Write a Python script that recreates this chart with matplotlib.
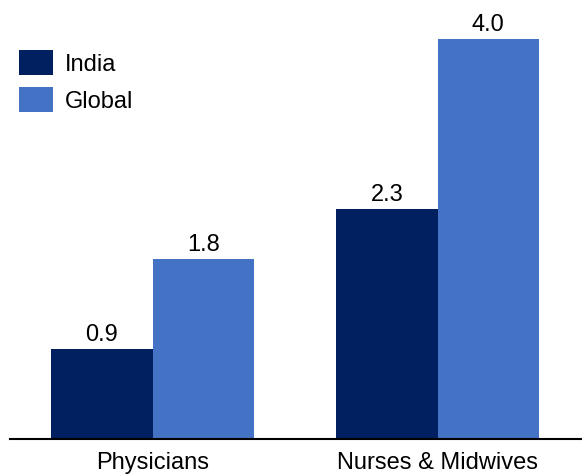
import matplotlib.pyplot as plt
import numpy as np

plt.rcParams['font.family'] = ['Liberation Sans', 'DejaVu Sans']

categories = ['Physicians', 'Nurses & Midwives']
india = [0.9, 2.3]
global_avg = [1.8, 4.0]

fig = plt.figure(figsize=(5.82, 4.77), dpi=100)
ax = fig.add_axes([10 / 582, 37 / 477, 572 / 582, 440 / 477])

x = np.arange(len(categories))
w = 0.356
b1 = ax.bar(x - w / 2, india, w, color='#002060', label='India')
b2 = ax.bar(x + w / 2, global_avg, w, color='#4472C4', label='Global')

for bars, vals in ((b1, india), (b2, global_avg)):
    for rect, v in zip(bars, vals):
        ax.annotate(f'{v:.1f}', (rect.get_x() + rect.get_width() / 2, v),
                    xytext=(0, 3), textcoords='offset points',
                    ha='center', va='bottom', fontsize=17)

ax.set_xlim(-0.5, 1.507)
ax.set_ylim(0, 4.40)
ax.set_xticks(x)
ax.set_xticklabels(categories, fontsize=17)
ax.tick_params(axis='x', length=0, pad=9)
ax.set_yticks([])
for s in ('top', 'right', 'left'):
    ax.spines[s].set_visible(False)
ax.spines['bottom'].set_linewidth(1.5)

ax.legend(loc='upper left', bbox_to_anchor=(0.0, 0.905), frameon=False,
          fontsize=17, handlelength=1.44, handleheight=1.22,
          labelspacing=0.5, handletextpad=0.5, borderaxespad=0)

fig.savefig('out.png', dpi=100)
